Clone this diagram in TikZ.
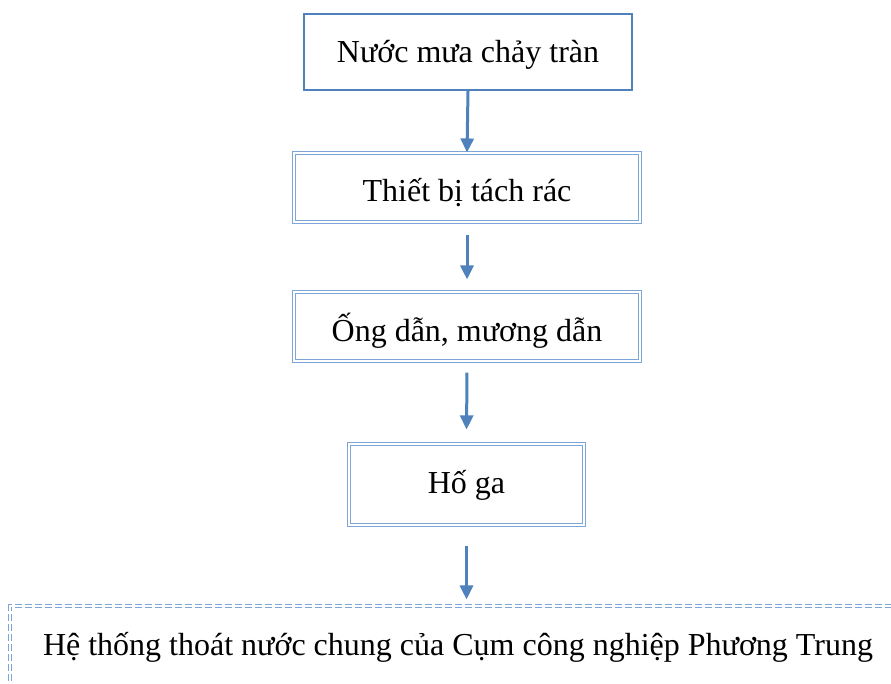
\documentclass[tikz,border=0pt]{standalone}
\usepackage{fontspec}
\setmainfont{Liberation Serif}
\usepackage{tikz}
\usetikzlibrary{arrows.meta}

\definecolor{flowblue}{RGB}{79,129,189}
\definecolor{paleblue}{RGB}{125,165,215}

\tikzset{
  solidbox/.style={draw=flowblue,line width=2pt,fill=white,inner sep=0pt,text depth=8pt,
    font=\fontsize{32}{38}\selectfont},
  doublebox/.style={draw=paleblue,line width=1.1pt,double=white,double distance=1.4pt,
    inner sep=0pt,text depth=8pt,font=\fontsize{32}{38}\selectfont},
  flow/.style={draw=flowblue,line width=3pt,-{Triangle[width=13pt,length=14pt]}}
}

\begin{document}
\begin{tikzpicture}[x=1pt,y=1pt]
  \clip (0,0) rectangle (891,-684);
  \node[solidbox,text height=30pt,minimum width=328pt,minimum height=76pt] (rain) at (468,-52) {Nước mưa chảy tràn};
  \node[doublebox,text height=36pt,minimum width=346pt,minimum height=69pt] (trash) at (467,-187.5) {Thiết bị tách rác};
  \node[doublebox,text height=38pt,minimum width=346pt,minimum height=69pt] (pipe) at (467,-326.5) {Ống dẫn, mương dẫn};
  \node[doublebox,text height=25pt,minimum width=235pt,minimum height=81pt] (pit) at (466.5,-484.5) {Hố ga};
  \node[doublebox,text height=26pt,dash pattern=on 7pt off 3pt,minimum width=896pt,minimum height=80pt] (drain) at (458,-646)
    {Hệ thống thoát nước chung của Cụm công nghiệp Phương Trung};

  \draw[flow] (rain.south) -- (trash.north);
  \draw[flow,shorten <=12pt,shorten >=12pt] (trash.south) -- (pipe.north);
  \draw[flow,shorten <=11pt,shorten >=14pt] (pipe.south) -- (pit.north);
  \draw[flow,shorten <=20pt,shorten >=6pt] (pit.south) -- (drain.north -| pit.south);
\end{tikzpicture}
\end{document}
